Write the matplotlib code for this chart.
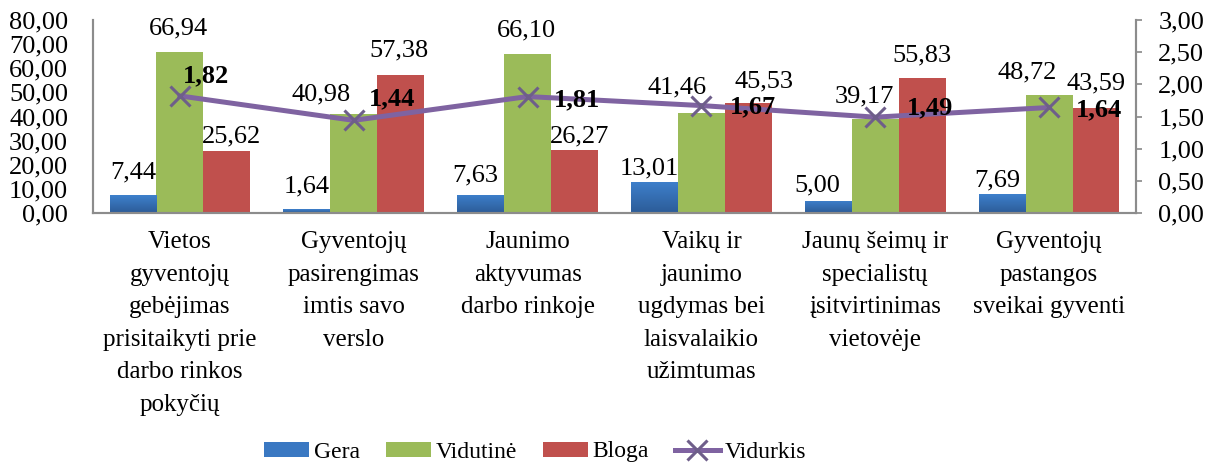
import matplotlib.pyplot as plt
import numpy as np
from matplotlib.colors import LinearSegmentedColormap

plt.rcParams['font.family'] = ['Liberation Serif', 'DejaVu Serif']

categories = ['Vietos\ngyventojų\ngebėjimas\nprisitaikyti prie\ndarbo rinkos\npokyčių',
              'Gyventojų\npasirengimas\nimtis savo\nverslo',
              'Jaunimo\naktyvumas\ndarbo rinkoje',
              'Vaikų ir\njaunimo\nugdymas bei\nlaisvalaikio\nužimtumas',
              'Jaunų šeimų ir\nspecialistų\nįsitvirtinimas\nvietovėje',
              'Gyventojų\npastangos\nsveikai gyventi']
gera = [7.44, 1.64, 7.63, 13.01, 5.00, 7.69]
vidutine = [66.94, 40.98, 66.10, 41.46, 39.17, 48.72]
bloga = [25.62, 57.38, 26.27, 45.53, 55.83, 43.59]
vidurkis = [1.82, 1.44, 1.81, 1.67, 1.49, 1.64]

# label nudges in pixels (dx, dy above bar top), hand-placed like in the original
gera_off = [(0, 17), (0, 17), (-5, 13), (-5, 7), (-11, 9), (-5, 8)]
vid_off = [(-1, 17), (-33, 14), (-1, 17), (-24, 20), (-11, 16), (-22, 17)]
blo_off = [(5, 9), (-2, 18), (5, 7), (16, 16), (0, 17), (0, 18)]
avg_off = [(3, 14), (15, 15), (26, -10), (28, -8), (32, 3), (27, -9)]

def fmt(v):
    return f'{v:.2f}'.replace('.', ',')

fig = plt.figure(figsize=(12.2, 4.67), dpi=100)
ax = fig.add_axes([93 / 1220, 1 - 213 / 467, (1136 - 93) / 1220, (213 - 20) / 467])
ax2 = ax.twinx()

x = np.arange(len(categories))
w = 0.27
fs = 19
b1 = ax.bar(x - w, gera, w, color='#3A78C2', label='Gera', zorder=2)
b2 = ax.bar(x, vidutine, w, color='#9BBB59', label='Vidutinė', zorder=2)
b3 = ax.bar(x + w, bloga, w, color='#C0504D', label='Bloga', zorder=2)

# blue bars have a light-to-dark vertical gradient in the original
blue_cmap = LinearSegmentedColormap.from_list('blu', ['#2C5C98', '#3E80CC'])
grad = np.linspace(0, 1, 64).reshape(-1, 1)
for rect in b1:
    x0, h = rect.get_x(), rect.get_height()
    im = ax.imshow(grad, cmap=blue_cmap, origin='lower', aspect='auto',
                   extent=(x0, x0 + rect.get_width(), 0, h), zorder=2.1)
    im.set_clip_path(rect)

for bars, vals, offs in [(b1, gera, gera_off), (b2, vidutine, vid_off), (b3, bloga, blo_off)]:
    for rect, v, (dx, dy) in zip(bars, vals, offs):
        ax.annotate(fmt(v), (rect.get_x() + rect.get_width() / 2, v),
                    xytext=(dx, dy), textcoords='offset pixels',
                    ha='center', va='baseline', fontsize=fs, zorder=4)

ln, = ax2.plot(x, vidurkis, color='#7F63A1', lw=3.6, marker='x', ms=15,
               mew=2.2, mec='#6E5E8A', label='Vidurkis', zorder=3)
for xi, v, (dx, dy) in zip(x, vidurkis, avg_off):
    ax2.annotate(fmt(v), (xi, v), xytext=(dx, dy), textcoords='offset pixels',
                 ha='left', va='baseline', fontsize=fs, fontweight='bold', zorder=5)

ax.set_xlim(-0.5, len(categories) - 0.5)
ax.set_ylim(0, 80)
ax2.set_ylim(0, 3)
ax.set_yticks(np.arange(0, 81, 10))
ax2.set_yticks(np.arange(0, 3.01, 0.5))
ax.set_yticklabels([fmt(v) for v in np.arange(0, 81, 10)], fontsize=fs)
ax2.set_yticklabels([fmt(v) for v in np.arange(0, 3.01, 0.5)], fontsize=fs)
ax.set_xticks(x)
ax.set_xticklabels(categories, fontsize=18, linespacing=1.62)
ax.tick_params(axis='x', length=0, pad=13)
ax.tick_params(axis='y', length=0, pad=18)
ax2.tick_params(axis='y', length=4, width=1.2, color='#888888', pad=12)

for a in (ax, ax2):
    a.spines['top'].set_visible(False)
    for s in ('left', 'right', 'bottom'):
        a.spines[s].set_color('#8C8C8C')
        a.spines[s].set_linewidth(1.5)

handles = [b1, b2, b3, ln]
fig.legend(handles, [h.get_label() for h in handles], loc='center',
           ncol=4, frameon=False, fontsize=17, bbox_to_anchor=(535 / 1220, 1 - 452 / 467),
           handlelength=1.9, handleheight=0.6, columnspacing=1.1, handletextpad=0.2,
           borderpad=0)

fig.savefig('out.png', dpi=100)
